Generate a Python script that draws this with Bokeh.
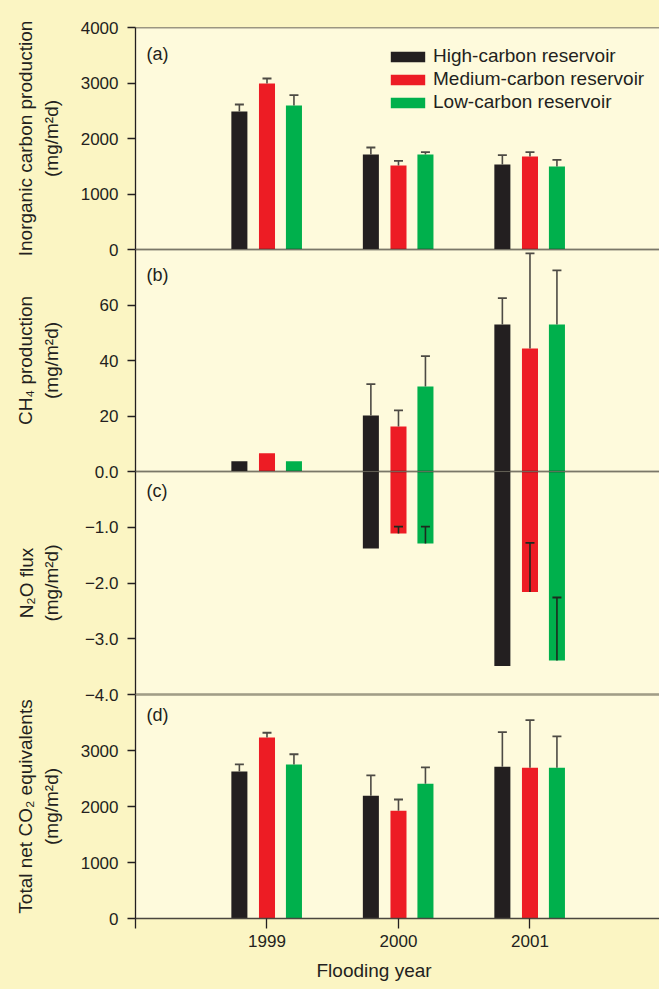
import math
from bokeh.plotting import figure
from bokeh.layouts import column
from bokeh.models import (ColumnDataSource, Range1d, FixedTicker, Span, Whisker, TeeHead,
                          Label, Legend, LegendItem, Title, GlobalInlineStyleSheet)
from bokeh.embed import file_html
from bokeh.resources import INLINE

# ---------------- data ----------------
years = [1999, 2000, 2001]
reservoirs = ["High-carbon reservoir", "Medium-carbon reservoir", "Low-carbon reservoir"]

# (a) inorganic carbon production (mg/m2d)
inorg_high = [2486, 1712, 1532]
inorg_med = [2991, 1514, 1676]
inorg_low = [2595, 1712, 1495]
inorg_high_err = [127, 126, 168]
inorg_med_err = [90, 84, 77]
inorg_low_err = [185, 41, 121]

# (b) CH4 production (mg/m2d)
ch4_high = [3.7, 20.2, 53.0]
ch4_med = [6.6, 16.2, 44.3]
ch4_low = [3.7, 30.6, 53.0]
ch4_high_err = [None, 11.3, 9.5]
ch4_med_err = [None, 5.8, 34.3]
ch4_low_err = [None, 11.0, 19.5]

# (c) N2O flux (mg/m2d)
n2o_high = [0.0, -1.38, -3.49]
n2o_med = [0.0, -1.11, -2.16]
n2o_low = [0.0, -1.29, -3.39]
n2o_high_err = [None, None, None]
n2o_med_err = [None, 0.12, 0.88]
n2o_low_err = [None, 0.30, 1.13]

# (d) total net CO2 equivalents (mg/m2d)
co2_high = [2623, 2191, 2712]
co2_med = [3233, 1922, 2694]
co2_low = [2748, 2407, 2694]
co2_high_err = [131, 365, 617]
co2_med_err = [84, 203, 850]
co2_low_err = [185, 293, 557]

inorg_ticks = [0, 1000, 2000, 3000, 4000]
ch4_ticks = [20, 40, 60]
n2o_ticks = [0, -1, -2, -3, -4]
n2o_tick_labels = ["0.0", "\u22121.0", "\u22122.0", "\u22123.0", "\u22124.0"]
co2_ticks = [0, 1000, 2000, 3000]
year_ticks = [1998, 1999, 2000, 2001]
x_title = "Flooding year"

# ---------------- style ----------------
FONT = "Liberation Sans"
TXT = "#231f20"
OUTER = "#FBF5C3"
INNER = "#FEFADC"
COLORS = ["#231f20", "#ed1c24", "#00b04c"]
OFFSETS = [-0.21, 0.0, 0.205]
BAR_W = 0.122
W = 659
OV = 14  # overlap border between stacked panels


def make_panel(height, top_border, bottom_border, yr, ticks, overrides, ylabel,
               label_standoff, xaxis=False):
    p = figure(width=W, height=height, x_range=Range1d(1998, 2001.985),
               y_range=Range1d(*yr), output_backend="svg", toolbar_location=None,
               x_axis_location="below" if xaxis else None,
               min_border_left=135, min_border_right=0,
               min_border_top=top_border, min_border_bottom=bottom_border,
               background_fill_color=INNER, border_fill_color=None,
               outline_line_color=None)
    p.grid.visible = False
    ax = p.yaxis[0]
    ax.ticker = FixedTicker(ticks=ticks)
    if overrides:
        ax.major_label_overrides = overrides
    ax.minor_tick_line_color = None
    ax.major_tick_out = 8
    ax.major_tick_in = 0
    ax.major_label_standoff = 9
    ax.axis_line_color = TXT
    ax.axis_line_width = 1.3
    ax.major_tick_line_color = TXT
    ax.major_tick_line_width = 1.3
    ax.major_label_text_font = FONT
    ax.major_label_text_font_size = "17px"
    ax.major_label_text_color = TXT
    ax.axis_label = ylabel
    ax.axis_label_text_font = FONT
    ax.axis_label_text_font_size = "19px"
    ax.axis_label_text_font_style = "normal"
    ax.axis_label_text_color = TXT
    ax.axis_label_standoff = label_standoff
    return p


def add_bars(p, means, errs, whisker_color):
    rends = []
    for i in range(3):
        xs = [y + OFFSETS[i] for y in years]
        src = ColumnDataSource(dict(x=xs, top=means[i]))
        r = p.vbar(x="x", top="top", bottom=0, width=BAR_W, source=src,
                   fill_color=COLORS[i], line_color=None)
        rends.append(r)
        bx, lo, up = [], [], []
        for x, m, e in zip(xs, means[i], errs[i]):
            if e is None:
                continue
            bx.append(x)
            lo.append(m)
            up.append(m + e)
        if bx:
            wsrc = ColumnDataSource(dict(base=bx, lower=lo, upper=up))
            w = Whisker(source=wsrc, base="base", lower="lower", upper="upper",
                        dimension="height", line_color=whisker_color, line_width=1.6,
                        upper_head=TeeHead(size=9, line_color=whisker_color, line_width=1.8),
                        lower_head=None, level="annotation")
            p.add_layout(w)
    return rends


def hline(p, y, color, width):
    p.add_layout(Span(location=y, dimension="width", line_color=color,
                      line_width=width, level="overlay"))


def panel_label(p, y, text):
    p.add_layout(Label(x=1998.084, y=y, text=text, text_font=FONT, text_font_size="18px",
                       text_color=TXT, text_baseline="middle", text_align="left"))


# (a)
pa = make_panel(27 + 222 + OV, 27, OV, (0, 4000), inorg_ticks, None,
                "Inorganic carbon production\n(mg/m\u00b2d)", 16)
ra = add_bars(pa, [inorg_high, inorg_med, inorg_low],
              [inorg_high_err, inorg_med_err, inorg_low_err], "#4d4a44")
hline(pa, 4000, "#3a3632", 1.6)
hline(pa, 0, "#2d2a26", 1.5)
panel_label(pa, 3514, "(a)")
legend = Legend(items=[LegendItem(label=reservoirs[i], renderers=[ra[i]]) for i in range(3)],
                location=(251, 136), glyph_width=43, glyph_height=13, label_standoff=4,
                spacing=1, padding=0, margin=0, border_line_color=None,
                background_fill_alpha=0, label_text_font=FONT,
                label_text_font_size="19px", label_text_color=TXT)
pa.add_layout(legend)

# (b)
pb = make_panel(OV + 222 + OV, OV, OV, (0, 80), ch4_ticks, None,
                "CH\u2084 production\n(mg/m\u00b2d)", 16 + 19)
add_bars(pb, [ch4_high, ch4_med, ch4_low], [ch4_high_err, ch4_med_err, ch4_low_err],
         "#4d4a44")
hline(pb, 80, "#2d2a26", 1.5)
hline(pb, 0, "#2d2a26", 1.5)
panel_label(pb, 70.9, "(b)")
pb.margin = (-2 * OV, 0, 0, 0)

# (c)
pc = make_panel(OV + 223 + OV, OV, OV, (-4, 0), n2o_ticks,
                dict(zip(n2o_ticks, n2o_tick_labels)),
                "N\u2082O flux\n(mg/m\u00b2d)", 16 + 4)
add_bars(pc, [n2o_high, n2o_med, n2o_low], [n2o_high_err, n2o_med_err, n2o_low_err],
         "#1c2a1f")
hline(pc, 0, "#2d2a26", 1.5)
hline(pc, -4, "#6b6757", 2)
panel_label(pc, -0.353, "(c)")
pc.margin = (-2 * OV, 0, 0, 0)

# (d)
pd_ = make_panel(OV + 224 + 71, OV, 71, (0, 4000), co2_ticks, None,
                 "Total net CO\u2082 equivalents\n(mg/m\u00b2d)", 16, xaxis=True)
add_bars(pd_, [co2_high, co2_med, co2_low], [co2_high_err, co2_med_err, co2_low_err],
         "#4d4a44")
hline(pd_, 4000, "#6b6757", 2)
panel_label(pd_, 3628, "(d)")
pd_.margin = (-2 * OV, 0, 0, 0)
xa = pd_.xaxis[0]
xa.ticker = FixedTicker(ticks=year_ticks)
xa.major_label_overrides = {1998: ""}
xa.minor_tick_line_color = None
xa.major_tick_out = 10
xa.major_tick_in = 0
xa.major_label_standoff = 6
xa.axis_line_color = "#4a463f"
xa.axis_line_width = 1.6
xa.major_tick_line_color = TXT
xa.major_tick_line_width = 1.3
xa.major_label_text_font = FONT
xa.major_label_text_font_size = "17px"
xa.major_label_text_color = TXT
pd_.add_layout(Title(text=x_title, align="left", offset=181, standoff=17,
                     text_font=FONT, text_font_size="19px", text_font_style="normal",
                     text_color=TXT), "below")

layout = column(pa, pb, pc, pd_, spacing=0,
                stylesheets=[GlobalInlineStyleSheet(
                    css="html, body { background-color: %s; }" % OUTER)])

open("out.html", "w").write(file_html(layout, INLINE))
